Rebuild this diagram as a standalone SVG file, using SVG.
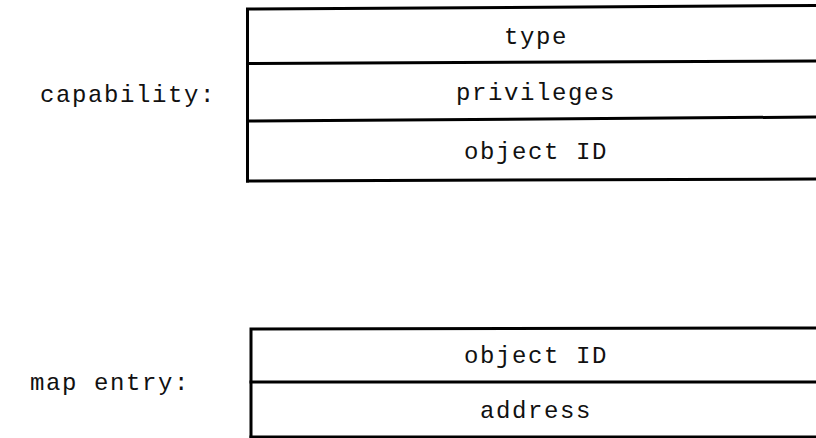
<svg xmlns="http://www.w3.org/2000/svg" width="816" height="438" viewBox="0 0 816 438">
  <style>
    .bg { fill: #ffffff; }
    .rule { stroke: #000000; stroke-width: 3; fill: none; stroke-linecap: square; }
    .field { font-family: "Liberation Mono", "DejaVu Sans Mono", monospace; font-size: 24px; letter-spacing: 1.6px; fill: #111111; text-anchor: middle; }
    .label { font-family: "Liberation Mono", "DejaVu Sans Mono", monospace; font-size: 24px; letter-spacing: 1.6px; fill: #111111; text-anchor: start; }
  </style>
  <rect class="bg" x="0" y="0" width="816" height="438"/>

  <g id="capability">
    <text class="label" x="40" y="102">capability:</text>
    <path class="rule" d="M247.5 181 L247.5 9 L816 5.5"/>
    <line class="rule" x1="247.5" y1="63.5" x2="816" y2="61"/>
    <line class="rule" x1="247.5" y1="121" x2="816" y2="117"/>
    <line class="rule" x1="247.5" y1="181" x2="816" y2="179"/>
    <text class="field" x="536" y="44">type</text>
    <text class="field" x="536" y="100">privileges</text>
    <text class="field" x="536" y="159">object ID</text>
  </g>

  <g id="map-entry">
    <text class="label" x="30" y="390">map entry:</text>
    <path class="rule" d="M251 437 L251 329 L816 328"/>
    <line class="rule" x1="251" y1="382" x2="816" y2="382"/>
    <line class="rule" x1="251" y1="437" x2="816" y2="437"/>
    <text class="field" x="536" y="363">object ID</text>
    <text class="field" x="536" y="418">address</text>
  </g>

  <g id="connectors"/>
</svg>
